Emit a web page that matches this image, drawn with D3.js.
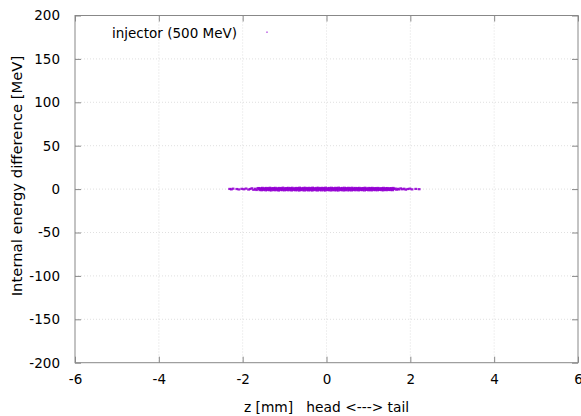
<!DOCTYPE html>
<html><head><meta charset="utf-8">
<script src="https://cdn.jsdelivr.net/npm/d3@7"></script>
<style>
body{margin:0;background:#fff;}
svg{display:block;font-family:"DejaVu Sans",sans-serif;}
</style></head><body>
<svg id="c" width="581" height="416"></svg>
<script>
const xTicks = [-6,-4,-2,0,2,4,6];
const yTicks = [-200,-150,-100,-50,0,50,100,150,200];
const seriesName = "injector (500 MeV)";
const xLabel = "z [mm]   head <---> tail";
const yLabel = "Internal energy difference [MeV]";
// particles: [z (mm), dE (MeV)]
const particles = [
 // left tail
 [-2.31,0.2],[-2.27,-0.3],[-2.23,0.5],[-2.14,0.1],[-2.09,-0.4],[-2.02,0.3],[-1.97,-0.2],[-1.92,0.6],[-1.86,-0.5],[-1.82,0.1],[-1.78,0.9],[-1.74,-0.8],[-1.70,0.4],[-1.67,-1.0],[-1.64,0.8],
 // core upper
 [-1.62,1.2],[-1.57,1.0],[-1.53,1.4],[-1.48,0.9],[-1.44,1.3],[-1.39,1.1],[-1.35,1.5],[-1.31,1.0],[-1.26,1.2],[-1.22,1.4],[-1.17,0.9],[-1.13,1.3],[-1.08,1.1],[-1.04,1.6],[-0.99,1.0],[-0.95,1.2],[-0.91,1.4],[-0.86,1.1],[-0.82,1.5],[-0.77,0.9],[-0.73,1.3],[-0.68,1.2],[-0.64,1.6],[-0.60,1.0],[-0.55,1.3],[-0.51,1.5],[-0.46,1.1],[-0.42,1.4],[-0.37,1.2],[-0.33,1.6],[-0.29,1.0],[-0.24,1.3],[-0.20,1.5],[-0.15,1.1],[-0.11,1.4],[-0.06,1.2],[-0.02,1.6],[0.03,1.0],[0.07,1.3],[0.12,1.5],[0.16,1.1],[0.21,1.4],[0.25,1.2],[0.29,1.6],[0.34,1.0],[0.38,1.3],[0.43,1.5],[0.47,1.1],[0.52,1.4],[0.56,1.2],[0.61,1.5],[0.65,0.9],[0.69,1.3],[0.74,1.1],[0.78,1.4],[0.83,1.0],[0.87,1.2],[0.92,1.5],[0.96,0.9],[1.01,1.3],[1.05,1.1],[1.09,1.4],[1.14,1.0],[1.18,1.2],[1.23,1.3],[1.27,0.9],[1.32,1.1],[1.36,1.4],[1.41,1.0],[1.45,1.2],[1.50,0.9],[1.54,1.1],[1.59,1.3],
 // core middle
 [-1.60,0.1],[-1.55,-0.2],[-1.51,0.3],[-1.46,-0.1],[-1.42,0.2],[-1.37,-0.3],[-1.33,0.0],[-1.28,0.4],[-1.24,-0.2],[-1.19,0.1],[-1.15,-0.4],[-1.10,0.3],[-1.06,0.0],[-1.01,-0.3],[-0.97,0.2],[-0.93,-0.1],[-0.88,0.4],[-0.84,-0.2],[-0.79,0.1],[-0.75,-0.4],[-0.71,0.3],[-0.66,0.0],[-0.62,-0.3],[-0.57,0.2],[-0.53,-0.1],[-0.48,0.4],[-0.44,-0.2],[-0.40,0.1],[-0.35,-0.4],[-0.31,0.3],[-0.26,0.0],[-0.22,-0.3],[-0.17,0.2],[-0.13,-0.1],[-0.08,0.4],[-0.04,-0.2],[0.01,0.1],[0.05,-0.4],[0.10,0.3],[0.14,0.0],[0.19,-0.3],[0.23,0.2],[0.27,-0.1],[0.32,0.4],[0.36,-0.2],[0.41,0.1],[0.45,-0.4],[0.50,0.3],[0.54,0.0],[0.58,-0.3],[0.63,0.2],[0.67,-0.1],[0.72,0.4],[0.76,-0.2],[0.81,0.1],[0.85,-0.4],[0.90,0.3],[0.94,0.0],[0.98,-0.3],[1.03,0.2],[1.07,-0.1],[1.12,0.4],[1.16,-0.2],[1.21,0.1],[1.25,-0.3],[1.30,0.2],[1.34,0.0],[1.39,-0.2],[1.43,0.3],[1.48,-0.1],[1.52,0.2],[1.57,-0.3],[1.61,0.1],
 // core lower
 [-1.59,-1.1],[-1.54,-1.3],[-1.50,-0.9],[-1.45,-1.4],[-1.41,-1.0],[-1.36,-1.2],[-1.32,-1.5],[-1.27,-1.0],[-1.23,-1.3],[-1.18,-1.1],[-1.14,-1.6],[-1.09,-1.0],[-1.05,-1.2],[-1.00,-1.4],[-0.96,-0.9],[-0.92,-1.3],[-0.87,-1.1],[-0.83,-1.5],[-0.78,-1.0],[-0.74,-1.3],[-0.70,-1.2],[-0.65,-1.6],[-0.61,-1.0],[-0.56,-1.3],[-0.52,-1.5],[-0.47,-1.1],[-0.43,-1.4],[-0.39,-1.2],[-0.34,-1.6],[-0.30,-1.0],[-0.25,-1.3],[-0.21,-1.5],[-0.16,-1.1],[-0.12,-1.4],[-0.07,-1.2],[-0.03,-1.6],[0.02,-1.0],[0.06,-1.3],[0.11,-1.5],[0.15,-1.1],[0.20,-1.4],[0.24,-1.2],[0.28,-1.6],[0.33,-1.0],[0.37,-1.3],[0.42,-1.5],[0.46,-1.1],[0.51,-1.4],[0.55,-1.2],[0.60,-1.5],[0.64,-0.9],[0.68,-1.3],[0.73,-1.1],[0.77,-1.4],[0.82,-1.0],[0.86,-1.2],[0.91,-1.5],[0.95,-0.9],[1.00,-1.3],[1.04,-1.1],[1.08,-1.4],[1.13,-1.0],[1.17,-1.2],[1.22,-1.3],[1.26,-0.9],[1.31,-1.1],[1.35,-1.4],[1.40,-1.0],[1.44,-1.2],[1.49,-0.9],[1.53,-1.1],[1.58,-1.2],
 // right tail
 [1.64,0.6],[1.67,-0.7],[1.70,0.3],[1.73,-0.4],[1.77,0.8],[1.81,-0.2],[1.85,0.4],[1.89,-0.6],[1.94,0.1],[1.99,0.5],[2.04,-0.3],[2.13,0.2],[2.21,-0.1]
];

const svg = d3.select("#c");
const L = 75, R = 578, T = 15.5, B = 362.7;
const FS = "13.5px";
const x = d3.scaleLinear().domain([-6,6]).range([L,R]);
const y = d3.scaleLinear().domain([-200,200]).range([B,T]);

// grid
const grid = svg.append("g");
grid.selectAll("line.gx").data(xTicks.slice(1,-1)).join("line")
 .attr("x1",d=>x(d)).attr("x2",d=>x(d)).attr("y1",T).attr("y2",B)
 .attr("stroke","#d8d8d8").attr("stroke-width",0.8).attr("stroke-dasharray","1,2");
grid.selectAll("line.gy").data(yTicks.slice(1,-1)).join("line")
 .attr("y1",d=>y(d)).attr("y2",d=>y(d)).attr("x1",L).attr("x2",R)
 .attr("stroke","#d8d8d8").attr("stroke-width",0.8).attr("stroke-dasharray","1,2");

// axes with inward ticks (mirrored)
const axCol = "#888";
const fmt = d => String(d);
function styleAxis(g){ g.select(".domain").remove(); g.selectAll(".tick line").attr("stroke",axCol).attr("stroke-width",1); g.selectAll("text").attr("fill","#000").style("font-size",FS).style("font-family","DejaVu Sans"); }
svg.append("g").attr("transform",`translate(0,${B})`)
 .call(d3.axisBottom(x).tickValues(xTicks).tickSize(-6).tickPadding(12).tickFormat(fmt))
 .call(styleAxis);
svg.append("g").attr("transform",`translate(0,${T})`)
 .call(d3.axisTop(x).tickValues(xTicks).tickSize(-6).tickFormat(""))
 .call(styleAxis);
svg.append("g").attr("transform",`translate(${L},0)`)
 .call(d3.axisLeft(y).tickValues(yTicks).tickSize(-6).tickPadding(15).tickFormat(fmt))
 .call(styleAxis);
svg.append("g").attr("transform",`translate(${R},0)`)
 .call(d3.axisRight(y).tickValues(yTicks).tickSize(-6).tickFormat(""))
 .call(styleAxis);
svg.append("rect").attr("x",L).attr("y",T).attr("width",R-L).attr("height",B-T)
 .attr("fill","none").attr("stroke",axCol).attr("stroke-width",1);

// points
const col = "#9400d3";
svg.append("g").selectAll("rect").data(particles).join("rect")
 .attr("x",d=>x(d[0])-1.4).attr("y",d=>y(d[1])-1.1).attr("width",2.8).attr("height",2.2)
 .attr("fill",col).attr("opacity",0.9);

// legend
svg.append("text").attr("x",112).attr("y",37.5).text(seriesName)
 .style("font-size",FS).attr("fill","#000");
svg.append("rect").attr("x",266).attr("y",31.5).attr("width",2).attr("height",1.4).attr("fill",col).attr("opacity",0.5);

// labels
svg.append("text").attr("x",(L+R)/2).attr("y",412).attr("text-anchor","middle")
 .style("font-size","13.8px").style("white-space","pre").attr("xml:space","preserve").text(xLabel);
svg.append("text").attr("transform",`translate(22,176) rotate(-90)`).attr("text-anchor","middle")
 .style("font-size","14.8px").text(yLabel);
</script>
</body></html>
